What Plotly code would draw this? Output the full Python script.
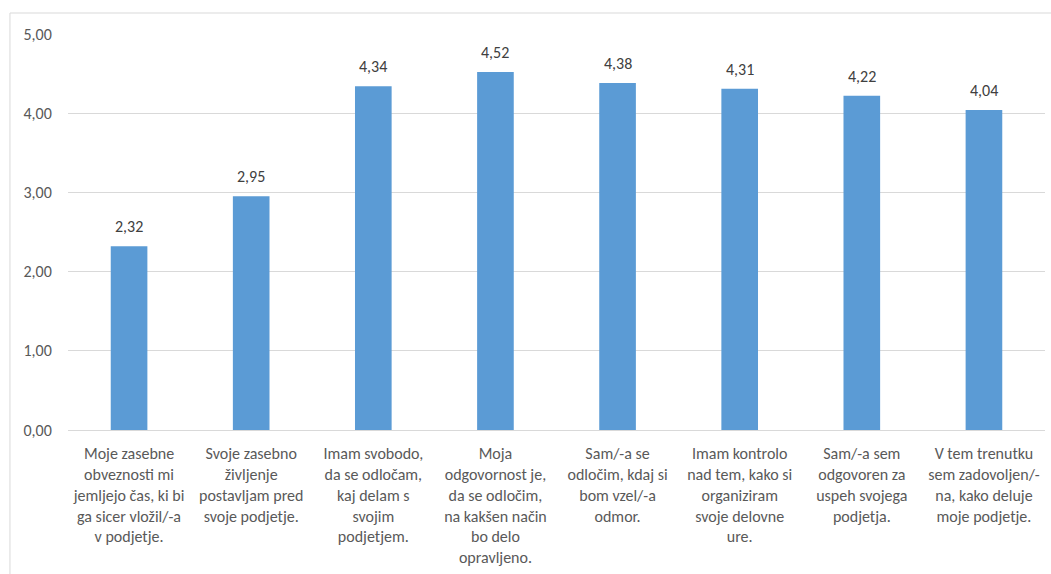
import plotly.graph_objects as go

# Survey statements (wrapped for the axis) and their mean scores
categories = [
    "Moje zasebne<br>obveznosti mi<br>jemljejo čas, ki bi<br>ga sicer vložil/-a<br>v podjetje.",
    "Svoje zasebno<br>življenje<br>postavljam pred<br>svoje podjetje.",
    "Imam svobodo,<br>da se odločam,<br>kaj delam s<br>svojim<br>podjetjem.",
    "Moja<br>odgovornost je,<br>da se odločim,<br>na kakšen način<br>bo delo<br>opravljeno.",
    "Sam/-a se<br>odločim, kdaj si<br>bom vzel/-a<br>odmor.",
    "Imam kontrolo<br>nad tem, kako si<br>organiziram<br>svoje delovne<br>ure.",
    "Sam/-a sem<br>odgovoren za<br>uspeh svojega<br>podjetja.",
    "V tem trenutku<br>sem zadovoljen/-<br>na, kako deluje<br>moje podjetje.",
]
values = [2.32, 2.95, 4.34, 4.52, 4.38, 4.31, 4.22, 4.04]
y_ticks = [0, 1, 2, 3, 4, 5]

FONT = "Carlito, Lato, 'Open Sans', sans-serif"
BAR = "#5B9BD5"
TEXT = "#595959"
LABEL = "#404040"
GRID = "#D9D9D9"

fig = go.Figure(
    go.Bar(
        x=categories,
        y=values,
        marker=dict(color=BAR, line=dict(width=0)),
        hovertemplate="%{y:.2f}<extra></extra>",
    )
)

# value labels sitting a little above each bar
for cat, val in zip(categories, values):
    fig.add_annotation(
        x=cat, y=val, xref="x", yref="y",
        text=f"{val:.2f}".replace(".", ","),
        showarrow=False, yanchor="bottom", yshift=8,
        font=dict(family=FONT, size=16, color=LABEL),
    )

fig.update_layout(
    width=1051,
    height=574,
    margin=dict(l=68, r=6, t=34, b=144),
    paper_bgcolor="white",
    plot_bgcolor="white",
    separators=",.",
    bargap=0.7,
    showlegend=False,
    font=dict(family=FONT, size=16, color=TEXT),
    shapes=[
        dict(
            type="rect", xref="paper", yref="paper",
            x0=-0.0594, x1=1.2, y0=-0.6, y1=1.053,
            line=dict(color=GRID, width=1), fillcolor="rgba(0,0,0,0)",
            layer="below",
        )
    ],
)

fig.update_xaxes(
    showgrid=False,
    showline=True,
    linecolor=GRID,
    linewidth=1,
    ticks="",
    ticklabelstandoff=9,
    tickfont=dict(family=FONT, size=16, color=TEXT),
    tickangle=0,
    automargin=False,
)

fig.update_yaxes(
    range=[0, 5],
    tickvals=y_ticks,
    tickformat=".2f",
    showgrid=True,
    gridcolor=GRID,
    gridwidth=1,
    zeroline=False,
    showline=False,
    ticks="outside",
    ticklen=12,
    tickcolor="rgba(0,0,0,0)",
    tickfont=dict(family=FONT, size=16, color=TEXT),
    automargin=False,
)

fig.write_html("out.html")
